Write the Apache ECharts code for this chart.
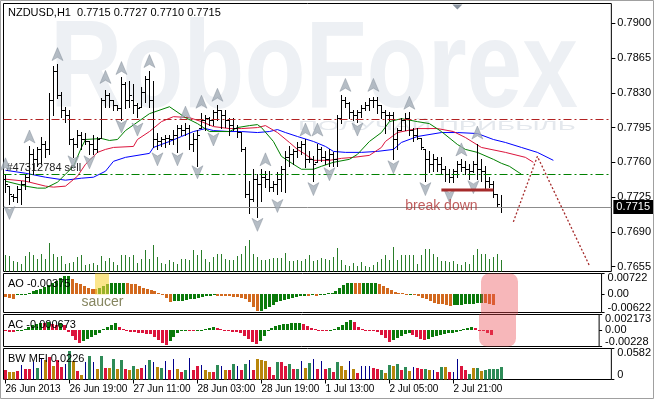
<!DOCTYPE html>
<html><head><meta charset="utf-8">
<script src="https://cdn.jsdelivr.net/npm/echarts@6/dist/echarts.min.js"></script>
<style>html,body{margin:0;padding:0;background:#fff}#c{width:654px;height:400px}</style>
</head><body><div id="c"></div>
<script>
const FONT = '"Liberation Sans", Arial, sans-serif';

// ---- time axis ----
const tickLabels = ['26 Jun 2013','26 Jun 19:00','27 Jun 11:00','28 Jun 03:00','28 Jun 19:00','1 Jul 13:00','2 Jul 05:00','2 Jul 21:00'];
const slotCount = 152;   // bar slots incl. chart shift
const labelStep = 16;

// ---- OHLC (H1 bars) ----
const opens = [
.7743,.7736,.7726,.7725,.7733,.7738,.7745,.7768,.7763,.7773,
.7778,.7773,.7823,.7852,.7828,.7813,.7808,.7783,.7778,.7788,
.7783,.7781,.7778,.7773,.7785,.7823,.7828,.7823,.7818,.7815,
.7839,.7823,.7823,.7818,.7816,.7831,.7844,.7823,.7783,.7781,
.7783,.7785,.7783,.7788,.7795,.7793,.7795,.7778,.7783,.7795,
.7803,.7805,.7803,.7811,.7813,.7808,.7803,.7798,.7795,.7791,
.7773,.7728,.7723,.7743,.7738,.7745,.7743,.7735,.7738,.7743,
.7753,.7765,.7768,.7771,.7775,.7778,.7763,.7763,.7760,.7773,
.7765,.7763,.7768,.7763,.7805,.7823,.7820,.7811,.7808,.7811,
.7815,.7818,.7823,.7823,.7818,.7811,.7808,.7808,.7783,.7793,
.7803,.7805,.7793,.7788,.7785,.7773,.7763,.7758,.7763,.7758,
.7753,.7748,.7745,.7751,.7758,.7755,.7753,.7751,.7758,.7753,
.7751,.7741,.7738,.7728,.7715];
const highs = [
.7748,.7736,.7728,.7736,.7741,.7748,.7776,.7773,.7775,.7786,
.7781,.7830,.7857,.7859,.7831,.7816,.7813,.7785,.7793,.7791,
.7790,.7781,.7788,.7786,.7825,.7833,.7830,.7823,.7818,.7846,
.7841,.7842,.7839,.7820,.7836,.7847,.7852,.7842,.7790,.7786,
.7788,.7788,.7793,.7798,.7798,.7800,.7798,.7790,.7793,.7810,
.7808,.7806,.7813,.7818,.7813,.7813,.7805,.7805,.7798,.7791,
.7775,.7741,.7753,.7748,.7753,.7751,.7751,.7741,.7750,.7756,
.7771,.7776,.7773,.7780,.7781,.7783,.7771,.7766,.7778,.7775,
.7771,.7773,.7770,.7808,.7828,.7826,.7821,.7813,.7813,.7818,
.7821,.7825,.7826,.7826,.7818,.7813,.7811,.7811,.7795,.7805,
.7810,.7811,.7795,.7795,.7785,.7773,.7771,.7768,.7765,.7765,
.7756,.7753,.7753,.7761,.7763,.7761,.7758,.7761,.7778,.7763,
.7756,.7745,.7741,.7728,.7727];
const lows = [
.7730,.7718,.7721,.7720,.7718,.7733,.7741,.7748,.7756,.7758,
.7765,.7768,.7808,.7825,.7806,.7801,.7778,.7765,.7775,.7773,
.7778,.7768,.7768,.7770,.7785,.7816,.7816,.7813,.7813,.7803,
.7815,.7816,.7810,.7806,.7816,.7821,.7816,.7775,.7773,.7776,
.7775,.7778,.7778,.7770,.7788,.7788,.7773,.7771,.7756,.7795,
.7793,.7798,.7798,.7803,.7795,.7796,.7788,.7793,.7786,.7771,
.7725,.7709,.7721,.7705,.7721,.7735,.7731,.7731,.7728,.7731,
.7730,.7756,.7758,.7765,.7768,.7755,.7760,.7741,.7760,.7761,
.7758,.7756,.7756,.7756,.7800,.7816,.7805,.7803,.7801,.7806,
.7813,.7813,.7816,.7810,.7805,.7790,.7803,.7763,.7773,.7793,
.7793,.7788,.7781,.7783,.7773,.7741,.7750,.7751,.7751,.7748,
.7741,.7740,.7740,.7745,.7751,.7748,.7743,.7750,.7743,.7741,
.7733,.7735,.7725,.7715,.7710];
const closes = [
.7738,.7728,.7725,.7733,.7738,.7745,.7768,.7763,.7773,.7778,
.7773,.7823,.7852,.7828,.7813,.7808,.7783,.7778,.7788,.7783,
.7781,.7778,.7773,.7783,.7823,.7828,.7823,.7818,.7815,.7839,
.7823,.7828,.7818,.7815,.7831,.7844,.7823,.7783,.7781,.7783,
.7785,.7783,.7788,.7795,.7793,.7795,.7778,.7783,.7788,.7803,
.7805,.7803,.7811,.7813,.7808,.7803,.7798,.7795,.7791,.7773,
.7728,.7723,.7743,.7738,.7745,.7743,.7735,.7738,.7743,.7753,
.7765,.7768,.7771,.7775,.7778,.7763,.7763,.7758,.7773,.7765,
.7763,.7768,.7763,.7805,.7823,.7820,.7811,.7808,.7811,.7815,
.7818,.7823,.7823,.7818,.7811,.7808,.7808,.7783,.7793,.7803,
.7805,.7793,.7788,.7785,.7775,.7763,.7758,.7763,.7758,.7753,
.7748,.7745,.7751,.7758,.7755,.7753,.7751,.7758,.7753,.7751,
.7741,.7738,.7728,.7718,.7715];
const volumes = [
1700,1600,1100,1000,800,1600,2000,1700,1300,1800,
1300,2900,1800,1500,1600,800,900,1000,1500,1700,
700,800,900,700,1600,1100,1400,1000,700,1700,
1700,1500,1700,900,1300,2200,1300,2700,1500,900,
800,1200,1000,800,1300,1300,1200,2200,1700,2200,
1300,1000,1500,1800,1800,1300,1200,1200,1600,1800,
2600,3200,1800,1500,1200,1200,1300,1400,1400,1400,
1900,1100,1100,1200,1100,1300,1700,1100,1200,1400,
1300,1200,1500,2400,1200,700,600,900,600,1000,
600,500,700,1000,1300,1700,1200,2500,1200,1700,
1700,1700,1700,800,1700,2300,2300,1800,1500,1100,
1100,1000,1100,800,700,1000,800,1700,2300,1800,
1800,1300,1500,1800,1200];

// ---- Alligator (sampled [bar, price]) ----
const jawLine = [[0,.7752],[5,.7749],[10,.7745],[15,.7742],[19,.7744],[22,.7745],[25,.7751],[27,.7761],[30,.7765],[36,.7769],[37,.7775],[41,.7781],[44,.7786],[47,.7791],[50,.7794],[52,.7792],[56,.7791],[59,.7791],[63,.7790],[66,.7791],[68,.7793],[70,.7790],[73,.7786],[77,.7781],[80,.7776],[82,.7771],[85,.7770],[89,.7770],[93,.7771],[97,.7773],[99,.7780],[103,.7786],[109,.7790],[113,.7790],[118,.7789],[122,.7783],[125,.7780],[129,.7775],[133,.7770],[137,.7762]];
const teethLine = [[0,.7743],[5,.7741],[10,.7736],[12,.7735],[15,.7736],[18,.7746],[20,.7758],[23,.7770],[25,.7773],[27,.7775],[32,.7776],[33,.7783],[36,.7791],[39,.7801],[42,.7806],[46,.7805],[49,.7801],[52,.7796],[56,.7794],[59,.7794],[63,.7795],[65,.7797],[68,.7790],[71,.7780],[73,.7773],[75,.7768],[77,.7762],[81,.7762],[84,.7764],[87,.7765],[91,.7767],[94,.7775],[95,.7781],[98,.7790],[103,.7794],[108,.7794],[112,.7791],[115,.7785],[119,.7775],[125,.7770],[130,.7765],[132,.7760]];
const lipsLine = [[0,.7741],[5,.7736],[8,.7734],[10,.7734],[13,.7740],[15,.7748],[17,.7756],[19,.7775],[20,.7783],[24,.7784],[26,.7782],[28,.7783],[30,.7792],[36,.7809],[41,.7816],[45,.7805],[48,.7799],[51,.7791],[56,.7791],[58,.7795],[61,.7797],[63,.7798],[64,.7795],[67,.7781],[69,.7766],[72,.7758],[74,.7753],[77,.7753],[79,.7756],[82,.7760],[86,.7763],[88,.7768],[91,.7781],[94,.7790],[96,.7801],[99,.7804],[103,.7801],[106,.7799],[109,.7791],[113,.7778],[115,.7773],[118,.7770],[122,.7763],[124,.7759],[126,.7756],[129,.7748]];

// ---- Fractals ----
const fractalUp = [[0,.7758],[6,.7786],[13,.7869],[25,.7846],[29,.7855],[36,.7862],[45,.7810],[49,.7821],[53,.7828],[65,.7763],[75,.7793],[78,.7793],[85,.7838],[92,.7838],[101,.7820],[114,.7773],[118,.7790]];
const fractalDown = [[1,.7709],[17,.7760],[21,.7760],[29,.7796],[33,.7793],[38,.7763],[43,.7763],[48,.7750],[52,.7783],[63,.7697],[68,.7716],[77,.7733],[81,.7748],[88,.7793],[97,.7755],[105,.7733],[111,.7726],[117,.7735]];

// ---- levels & drawings ----
const priceTicks = [0.7655,0.7690,0.7725,0.7760,0.7795,0.7830,0.7865,0.7900];
const resistanceLevel = 0.7803;
const orderLevel = 0.7748;
const orderText = '#47312784 sell';
const bidPrice = 0.7715;
const breakDownLine = [[109,0.7732],[122,0.7732]];
const breakDownLabel = [109,0.7716];
const forecastPath = [[127,0.7700],[133,0.7766],[146,0.7656]];

// ---- Awesome Oscillator ----
const aoValues = [
-0.00086,-0.00121,-0.00148,-0.00035,-0.00010,0.00017,0.00052,0.00104,0.00138,0.00190,
0.00242,0.00311,0.00380,0.00449,0.00552,0.00621,0.00631,0.00518,0.00397,0.00345,
0.00276,0.00224,0.00190,0.00173,0.00224,0.00276,0.00345,0.00380,0.00397,0.00404,
0.00411,0.00380,0.00355,0.00345,0.00276,0.00224,0.00190,0.00138,0.00104,0.00052,
0.00002,-0.00121,-0.00248,-0.00242,-0.00235,-0.00224,-0.00207,-0.00173,-0.00155,-0.00121,
-0.00086,-0.00069,-0.00052,-0.00035,-0.00038,-0.00045,-0.00062,-0.00069,-0.00072,-0.00086,
-0.00114,-0.00173,-0.00276,-0.00449,-0.00587,-0.00573,-0.00518,-0.00449,-0.00380,-0.00276,
-0.00242,-0.00207,-0.00155,-0.00121,-0.00086,-0.00069,-0.00052,-0.00055,-0.00035,-0.00041,
-0.00017,-0.00010,0.00035,0.00052,0.00104,0.00224,0.00311,0.00380,0.00397,0.00390,
0.00383,0.00390,0.00397,0.00400,0.00404,0.00345,0.00276,0.00224,0.00148,0.00079,
0.00059,0.00035,0.00024,0.00028,0.00000,-0.00059,-0.00114,-0.00173,-0.00231,-0.00286,
-0.00321,-0.00345,-0.00369,-0.00386,-0.00380,-0.00376,-0.00369,-0.00345,-0.00321,-0.00317,
-0.00311,-0.00286,-0.00290,-0.00335,-0.00375];
const aoTicks = [-0.00622, 0, 0.00722];

// ---- Accelerator Oscillator ----
const acValues = [
-0.00014,-0.00021,-0.00028,-0.00007,0.00007,0.00021,0.00042,0.00070,0.00091,0.00105,
0.00098,0.00112,0.00084,0.00077,0.00098,0.00070,-0.00028,-0.00084,-0.00141,-0.00178,
-0.00155,-0.00126,-0.00098,-0.00070,-0.00042,0.00014,0.00042,0.00070,0.00098,0.00042,
0.00014,-0.00007,-0.00021,-0.00028,-0.00035,-0.00042,-0.00049,-0.00056,-0.00098,-0.00141,
-0.00183,-0.00211,-0.00155,-0.00098,-0.00042,-0.00014,0.00007,-0.00007,-0.00014,-0.00007,
0.00004,0.00014,0.00028,0.00042,0.00028,0.00014,-0.00007,-0.00014,-0.00021,-0.00028,
-0.00042,-0.00084,-0.00126,-0.00169,-0.00197,-0.00155,-0.00084,-0.00014,0.00028,0.00056,
0.00070,0.00084,0.00091,0.00098,0.00103,0.00105,0.00084,0.00056,0.00028,0.00014,
0.00004,-0.00004,-0.00007,0.00007,0.00021,0.00042,0.00070,0.00112,0.00141,0.00112,
0.00042,0.00014,0.00007,0.00004,-0.00003,-0.00028,-0.00070,-0.00112,-0.00164,-0.00141,
-0.00112,-0.00084,-0.00056,-0.00042,-0.00070,-0.00098,-0.00126,-0.00141,-0.00126,-0.00098,
-0.00077,-0.00063,-0.00049,-0.00042,-0.00035,-0.00021,0.00000,0.00014,0.00028,0.00042,
0.00028,0.00007,-0.00014,-0.00042,-0.000673];
const acTicks = [-0.00228, 0, 0.002173];

// ---- Market Facilitation Index ----
const bwValues = [
.0177,.0147,.0147,.0153,.0267,.0191,.0191,.0324,.0210,.0382,
.0363,.0420,.0248,.0363,.0229,.0286,.0534,.0343,.0153,.0076,
.0324,.0439,.0324,.0191,.0439,.0210,.0210,.0382,.0191,.0363,
.0191,.0172,.0248,.0191,.0210,.0267,.0363,.0324,.0229,.0210,
.0343,.0172,.0382,.0191,.0134,.0172,.0401,.0172,.0248,.0267,
.0172,.0134,.0134,.0267,.0248,.0172,.0172,.0286,.0248,.0172,
.0286,.0363,.0172,.0382,.0363,.0343,.0229,.0076,.0324,.0324,
.0248,.0286,.0191,.0191,.0343,.0210,.0305,.0382,.0191,.0343,
.0191,.0210,.0134,.0324,.0248,.0172,.0343,.0191,.0114,.0248,
.0248,.0248,.0210,.0191,.0172,.0114,.0267,.0248,.0286,.0172,
.0229,.0153,.0229,.0210,.0191,.0191,.0172,.0172,.0134,.0229,
.0229,.0134,.0134,.0382,.0248,.0172,.0095,.0210,.0210,.0153,
.0172,.0191,.0191,.0191,.0226];
// g = green, f = fade, k = fake, s = squat
const bwTypes = (
'sffsksskgk'+'fsfsskgfsf'+'kgkfgsfgfg'+'sfgfskgkfg'+'kskfsgkssk'+
'ffsgkfsgks'+'gksfffssgs'+'sgsgkfgksk'+'sgsgffkfsk'+'kkssgfgfgs'+
'gfkssgfksg'+'fskkssgfgf'+'ggggg').split('');
const bwTicks = [0, 0.0582];

// annotation boxes: [firstBar, lastBar, valueFrom, valueTo]
const saucerBox = [23, 26, 0, aoTicks[2]];
const signalBoxAO = [121, 130, aoTicks[0], aoTicks[2]];
const signalBoxAC = [121, 130, acTicks[0], acTicks[2]];

const COL = {aoUp:'#0a7a0a', aoDown:'#d2691e', acUp:'#0a7a0a', acDown:'#dc143c',
  bw:{g:'#2e8b57', f:'#b8860b', k:'#00008b', s:'#dc143c'}};

const categories = Array.from({length: slotCount}, (_, i) => String(i));
const labelFor = idx => (idx % labelStep === 0 && tickLabels[idx / labelStep]) || '';
const ohlc = opens.map((o, i) => [i, o, highs[i], lows[i], closes[i]]);

function renderOHLC(params, api) {
  const i = api.value(0);
  const po = api.coord([i, api.value(1)]);
  const col = Math.floor(po[0]);
  const x = col + 0.5;
  const yo = Math.round(po[1]) + 0.5;
  const yh = Math.round(api.coord([i, api.value(2)])[1]);
  const yl = Math.round(api.coord([i, api.value(3)])[1]);
  const yc = Math.round(api.coord([i, api.value(4)])[1]) + 0.5;
  const st = {stroke:'#000', lineWidth:1};
  return {type:'group', children:[
    {type:'line', shape:{x1:x, y1:yh, x2:x, y2:yl + 1}, style:st},
    {type:'line', shape:{x1:col - 2, y1:yo, x2:col, y2:yo}, style:st},
    {type:'line', shape:{x1:col + 1, y1:yc, x2:col + 3, y2:yc}, style:st}
  ]};
}
function renderVolume(params, api) {
  const p = api.coord([api.value(0), api.value(1)]);
  const z = api.coord([api.value(0), 0]);
  const col = Math.floor(p[0]);
  const top = Math.round(p[1]);
  return {type:'rect', shape:{x:col, y:top, width:1, height:Math.round(z[1]) - top}, style:{fill:'#2a7d2a'}};
}
function oscRenderer(values, upColor, downColor) {
  return function (params, api) {
    const i = params.dataIndex;
    const v = values[i];
    const p = api.coord([i, v]);
    const z = api.coord([i, 0]);
    const col = Math.floor(p[0]);
    const top = Math.round(Math.min(p[1], z[1]));
    let bot = Math.round(Math.max(p[1], z[1]));
    if (bot - top < 1) bot = top + 1;
    const up = i > 0 && v > values[i - 1];
    return {type:'rect', shape:{x:col - 1, y:top, width:3, height:bot - top}, style:{fill: up ? upColor : downColor}};
  };
}
function renderBW(params, api) {
  const i = params.dataIndex;
  const t = bwTypes[i];
  const p = api.coord([i, bwValues[i]]);
  const z = api.coord([i, 0]);
  const col = Math.floor(p[0]);
  const top = Math.round(p[1]);
  const w = t === 'k' ? 1 : 3;
  return {type:'rect', shape:{x: t === 'k' ? col : col - 1, y:top, width:w, height:Math.round(z[1]) - top}, style:{fill: COL.bw[t]}};
}
function boxRenderer(fill, radius, extendBottom) {
  return function (params, api) {
    const a = api.coord([api.value(0), api.value(3)]);
    const b = api.coord([api.value(1), api.value(2)]);
    const x0 = Math.floor(a[0]), x1 = Math.floor(b[0]) + 2;
    const y0 = Math.min(a[1], b[1]), y1 = Math.max(a[1], b[1]) + (extendBottom || 0);
    return {type:'rect', shape:{x:x0, y:y0, width:x1 - x0, height:y1 - y0, r:radius}, style:{fill}};
  };
}

const gridBase = {left:3.5, right:42.5, show:true, borderColor:'#000', borderWidth:1, backgroundColor:'transparent'};
const grids = [
  Object.assign({top:3.5, height:268}, gridBase),
  Object.assign({top:273.5, height:39}, gridBase),
  Object.assign({top:314.5, height:32}, gridBase),
  Object.assign({top:348.5, height:31}, gridBase)
];
const xAxes = [0,1,2,3].map(k => ({
  type:'category', gridIndex:k, data:categories, boundaryGap:true,
  axisLine:{show:false}, splitLine:{show:false},
  axisTick: k === 3 ? {show:true, alignWithLabel:true, length:4, interval:(idx) => labelFor(idx) !== '', lineStyle:{color:'#000'}} : {show:false},
  axisLabel: k === 3 ? {show:true, interval:(idx) => labelFor(idx) !== '', formatter:(v, idx) => labelFor(idx), align:'left', margin:5, color:'#000', fontSize:10, fontFamily:FONT} : {show:false}
}));
function rightAxis(grid, min, max, ticks, fmt) {
  return {type:'value', gridIndex:grid, position:'right', min, max, scale:true,
    axisLine:{show:false}, splitLine:{show:false},
    axisTick:{show:true, length:3, customValues:ticks, lineStyle:{color:'#000'}},
    axisLabel:{customValues:ticks, formatter:fmt, color:'#000', fontSize:11, lineHeight:9, margin:6, fontFamily:FONT,
      showMinLabel:true, showMaxLabel:true, hideOverlap:false, padding:0,
      verticalAlignMinLabel:'bottom', verticalAlignMaxLabel:'top'}};
}
const oscFmt = v => v === 0 ? '0.00' : String(v);
const yAxes = [
  {type:'value', gridIndex:0, position:'right', min:0.7650, max:0.7920, scale:true,
   axisLine:{show:false}, splitLine:{show:false},
   axisTick:{show:true, length:4, customValues:priceTicks, lineStyle:{color:'#000'}},
   axisLabel:{customValues:priceTicks, formatter:v => v.toFixed(4), color:'#000', fontSize:11, margin:6, fontFamily:FONT}},
  {type:'value', gridIndex:0, min:0, max:26800, show:false},
  rightAxis(1, aoTicks[0], aoTicks[2], aoTicks, oscFmt),
  rightAxis(2, acTicks[0], acTicks[2], acTicks, oscFmt),
  rightAxis(3, bwTicks[0], bwTicks[1], bwTicks, v => String(v))
];

const UP_PATH = 'path://M5 0L10 12L5 9L0 12Z';
const DOWN_PATH = 'path://M0 0L5 3L10 0L5 12Z';
const PINK = 'rgba(235,75,82,0.4)';

const option = {
  animation:false,
  backgroundColor:'#fff',
  textStyle:{fontFamily:FONT},
  grid:grids, xAxis:xAxes, yAxis:yAxes,
  series:[
    {type:'custom', name:'Volume', xAxisIndex:0, yAxisIndex:1, data:volumes.map((v,i)=>[i,v]), renderItem:renderVolume, encode:{x:0,y:1}, z:1, silent:true, clip:true},
    {type:'line', name:'Jaw', xAxisIndex:0, yAxisIndex:0, data:jawLine, symbol:'none', lineStyle:{color:'#0000ff', width:1}, z:2, silent:true,
     markLine:{silent:true, symbol:['none','none'], animation:false, precision:6, data:[
       {yAxis:resistanceLevel, lineStyle:{color:'#b22222', type:[8,3,2,3], width:1}, label:{show:false}},
       {yAxis:orderLevel, lineStyle:{color:'#008000', type:[8,3,2,3], width:1},
        label:{show:true, position:'insideStartTop', formatter:orderText, color:'#222', fontSize:11, fontFamily:FONT, distance:[3,1]}},
       {yAxis:bidPrice, lineStyle:{color:'#8c8c8c', type:'solid', width:1},
        label:{show:true, position:'end', formatter:bidPrice.toFixed(4), color:'#fff', backgroundColor:'#000', padding:[2,3,1,3], fontSize:11, fontFamily:FONT, distance:2}}
     ]}},
    {type:'line', name:'Teeth', xAxisIndex:0, yAxisIndex:0, data:teethLine, symbol:'none', lineStyle:{color:'#dc143c', width:1}, z:2, silent:true},
    {type:'line', name:'Lips', xAxisIndex:0, yAxisIndex:0, data:lipsLine, symbol:'none', lineStyle:{color:'#008000', width:1}, z:2, silent:true},
    {type:'custom', name:'NZDUSD', xAxisIndex:0, yAxisIndex:0, data:ohlc, renderItem:renderOHLC, encode:{x:0, y:[1,2,3,4]}, z:4, silent:true, clip:true},
    {type:'scatter', name:'Fractal up', xAxisIndex:0, yAxisIndex:0, data:fractalUp, symbol:UP_PATH, symbolSize:[11,13], itemStyle:{color:'#a3acb6', borderColor:'#7a8590', borderWidth:0.5}, z:5, silent:true},
    {type:'scatter', name:'Fractal down', xAxisIndex:0, yAxisIndex:0, data:fractalDown, symbol:DOWN_PATH, symbolSize:[11,13], itemStyle:{color:'#a3acb6', borderColor:'#7a8590', borderWidth:0.5}, z:5, silent:true},
    {type:'line', name:'Support', xAxisIndex:0, yAxisIndex:0, data:breakDownLine, symbol:'none', lineStyle:{color:'#a52a2a', width:3}, z:6, silent:true},
    {type:'line', name:'Forecast', xAxisIndex:0, yAxisIndex:0, data:forecastPath, symbol:'none', lineStyle:{color:'#a52a2a', width:1.3, type:[2,2]}, z:6, silent:true},
    {type:'scatter', name:'Note', xAxisIndex:0, yAxisIndex:0, data:[breakDownLabel], symbolSize:0, z:7, silent:true,
     label:{show:true, position:'inside', formatter:'break down', color:'#b03434', fontSize:14, fontFamily:FONT}},
    {type:'custom', name:'AO', xAxisIndex:1, yAxisIndex:2, data:aoValues.map((v,i)=>[i,v]), renderItem:oscRenderer(aoValues, COL.aoUp, COL.aoDown), encode:{x:0,y:1}, silent:true, clip:true},
    {type:'custom', name:'Saucer', xAxisIndex:1, yAxisIndex:2, data:[saucerBox], renderItem:boxRenderer('rgba(248,214,60,0.6)', 0, 0), z:8, silent:true, clip:false},
    {type:'custom', name:'Signal AO', xAxisIndex:1, yAxisIndex:2, data:[signalBoxAO], renderItem:boxRenderer(PINK, [8,8,0,0], 2), z:8, silent:true, clip:false},
    {type:'custom', name:'AC', xAxisIndex:2, yAxisIndex:3, data:acValues.map((v,i)=>[i,v]), renderItem:oscRenderer(acValues, COL.acUp, COL.acDown), encode:{x:0,y:1}, silent:true, clip:true},
    {type:'custom', name:'Signal AC', xAxisIndex:2, yAxisIndex:3, data:[signalBoxAC], renderItem:boxRenderer(PINK, [0,0,8,8], 0), z:8, silent:true, clip:false},
    {type:'custom', name:'BW MFI', xAxisIndex:3, yAxisIndex:4, data:bwValues.map((v,i)=>[i,v]), renderItem:renderBW, encode:{x:0,y:1}, silent:true, clip:true}
  ]
};

const chart = echarts.init(document.getElementById('c'), null, {renderer:'canvas', width:654, height:400});
chart.setOption(option);

const px = (xi, yi, pt) => chart.convertToPixel({xAxisIndex:xi, yAxisIndex:yi}, pt);
const last = opens.length - 1;
const sauText = px(1, 2, [24, -0.0028]);
const shift = px(0, 0, [113, 0.7920]);

chart.setOption({graphic:[
  {type:'text', z:0, x:50, y:73, scaleY:1.25, silent:true,
   style:{text:'RoboForex', font:'bold 100px ' + FONT, fill:'#edf0f4', verticalAlign:'middle', align:'left'}},
  {type:'text', z:0, x:298, y:127, scaleX:2.3, silent:true,
   style:{text:'ПОЛУЧАЙ ПРИБЫЛЬ', font:'12px ' + FONT, fill:'#e4e8ed', verticalAlign:'middle', align:'left'}},
  {type:'text', z:20, x:8, y:13, silent:true,
   style:{text:'NZDUSD,H1  ' + [opens[last], highs[last], lows[last], closes[last]].map(v => v.toFixed(4)).join(' '), font:'11px ' + FONT, fill:'#000', verticalAlign:'middle'}},
  {type:'text', z:20, x:8, y:284, silent:true,
   style:{text:'AO ' + aoValues[last].toFixed(5), font:'11px ' + FONT, fill:'#000', verticalAlign:'middle'}},
  {type:'text', z:20, x:8, y:325, silent:true,
   style:{text:'AC ' + acValues[last].toFixed(6), font:'11px ' + FONT, fill:'#000', verticalAlign:'middle'}},
  {type:'text', z:20, x:8, y:359, silent:true,
   style:{text:'BW MFI ' + bwValues[last].toFixed(4), font:'11px ' + FONT, fill:'#000', verticalAlign:'middle'}},
  {type:'text', z:16, x:sauText[0] + 2.5, y:sauText[1], silent:true,
   style:{text:'saucer', font:'14px ' + FONT, fill:'#85855f', align:'center', verticalAlign:'middle'}},
  {type:'polygon', z:15, silent:true, shape:{points:[[shift[0] - 5, shift[1] + 1], [shift[0] + 5, shift[1] + 1], [shift[0], shift[1] + 6]]}, style:{fill:'#8a94a0'}},
  {type:'rect', z:30, silent:true, shape:{x:0.5, y:0.5, width:653, height:398}, style:{fill:'none', stroke:'#a0a0a0', lineWidth:1}}
]});
</script>
</body></html>
